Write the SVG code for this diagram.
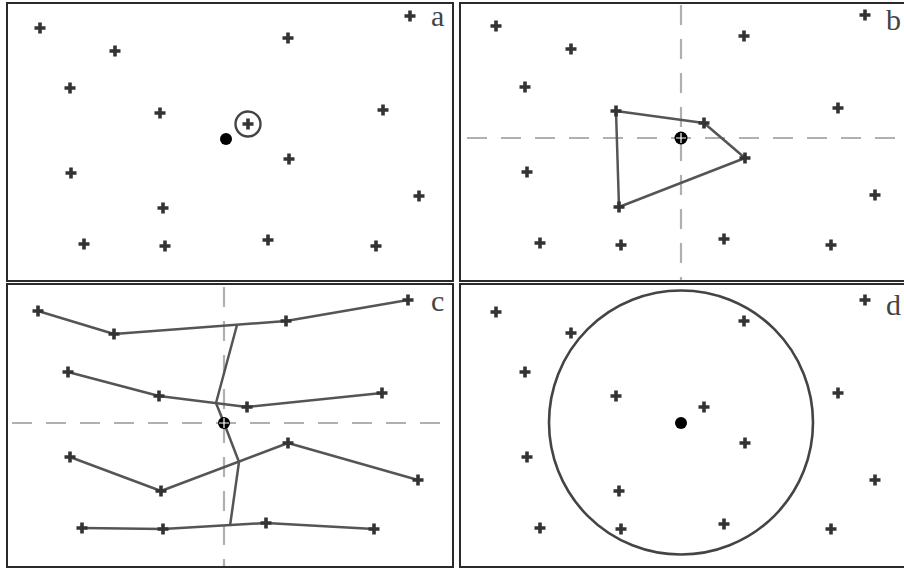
<svg xmlns="http://www.w3.org/2000/svg" xmlns:xlink="http://www.w3.org/1999/xlink" width="904" height="569" viewBox="0 0 904 569">
<style>
.frame{fill:none;stroke:#2a2a2a;stroke-width:2}
.dash{stroke:#b0b0b0;stroke-width:2.2;stroke-dasharray:20 14;fill:none}
.poly{fill:none;stroke:#555;stroke-width:2.5;stroke-linejoin:round}
.lbl{font-family:"Liberation Serif","DejaVu Serif",serif;font-size:30px;fill:#444}
.dot{fill:#000}
</style>
<defs>
<path id="p" d="M-5.5,0H5.5M0,-5.5V5.5" stroke="#333" stroke-width="3.6"/>
</defs>
<rect x="0" y="0" width="904" height="569" fill="#fff"/>

<g id="panel-a">
<rect class="frame" x="7" y="3" width="446" height="278"/>
<text class="lbl" x="431" y="26">a</text>
<g id="points-a">
<use xlink:href="#p" x="40" y="28"/><use xlink:href="#p" x="115" y="51"/><use xlink:href="#p" x="288" y="38"/><use xlink:href="#p" x="410" y="16"/>
<use xlink:href="#p" x="70" y="88"/><use xlink:href="#p" x="160" y="113"/><use xlink:href="#p" x="248" y="124"/><use xlink:href="#p" x="383" y="110"/>
<use xlink:href="#p" x="289" y="159"/><use xlink:href="#p" x="71" y="173"/><use xlink:href="#p" x="419" y="196"/><use xlink:href="#p" x="163" y="208"/>
<use xlink:href="#p" x="84" y="244"/><use xlink:href="#p" x="165" y="246"/><use xlink:href="#p" x="268" y="240"/><use xlink:href="#p" x="376" y="246"/>
</g>
<circle cx="248" cy="124" r="12.5" fill="none" stroke="#444" stroke-width="2.4"/>
<circle class="dot" cx="226" cy="139" r="6"/>
</g>

<g id="panel-b">
<rect class="frame" x="460" y="3" width="450" height="278"/>
<text class="lbl" x="886" y="30">b</text>
<g id="guides-b">
<line class="dash" x1="681" y1="5" x2="681" y2="280"/>
<line class="dash" x1="467" y1="138" x2="904" y2="138"/>
</g>
<polygon class="poly" points="616,111 704,123 745,158 619,207"/>
<g id="points-b">
<use xlink:href="#p" x="496" y="26"/><use xlink:href="#p" x="571" y="49"/><use xlink:href="#p" x="744" y="36"/><use xlink:href="#p" x="865" y="15"/>
<use xlink:href="#p" x="525" y="87"/><use xlink:href="#p" x="616" y="111"/><use xlink:href="#p" x="704" y="123"/><use xlink:href="#p" x="838" y="108"/>
<use xlink:href="#p" x="745" y="158"/><use xlink:href="#p" x="527" y="172"/><use xlink:href="#p" x="875" y="195"/><use xlink:href="#p" x="619" y="207"/>
<use xlink:href="#p" x="540" y="243"/><use xlink:href="#p" x="621" y="245"/><use xlink:href="#p" x="724" y="239"/><use xlink:href="#p" x="831" y="245"/>
</g>
<circle class="dot" cx="681" cy="138" r="6.5"/>
<path d="M676,138H686M681,133V143" stroke="#fff" stroke-width="1.2"/>
</g>

<g id="panel-c">
<rect class="frame" x="7" y="284" width="446" height="283"/>
<text class="lbl" x="431" y="311">c</text>
<g id="guides-c">
<line class="dash" x1="224" y1="287" x2="224" y2="566"/>
<line class="dash" x1="12" y1="423" x2="448" y2="423"/>
</g>
<g id="connectors-c">
<polyline class="poly" points="38,311 114,334 286,321 408,300"/>
<polyline class="poly" points="68,372 159,396 247,407 382,393"/>
<polyline class="poly" points="70,457 161,491 288,443 418,480"/>
<polyline class="poly" points="82,528 163,529 266,523 374,529"/>
<polyline class="poly" points="237,325 216,403 224,423 239,462 230,526"/>
</g>
<g id="points-c">
<use xlink:href="#p" x="38" y="311"/><use xlink:href="#p" x="114" y="334"/><use xlink:href="#p" x="286" y="321"/><use xlink:href="#p" x="408" y="300"/>
<use xlink:href="#p" x="68" y="372"/><use xlink:href="#p" x="159" y="396"/><use xlink:href="#p" x="247" y="407"/><use xlink:href="#p" x="382" y="393"/>
<use xlink:href="#p" x="70" y="457"/><use xlink:href="#p" x="161" y="491"/><use xlink:href="#p" x="288" y="443"/><use xlink:href="#p" x="418" y="480"/>
<use xlink:href="#p" x="82" y="528"/><use xlink:href="#p" x="163" y="529"/><use xlink:href="#p" x="266" y="523"/><use xlink:href="#p" x="374" y="529"/>
</g>
<circle class="dot" cx="224" cy="423" r="6"/>
<path d="M219,423H229M224,418V428" stroke="#fff" stroke-width="1.2"/>
</g>

<g id="panel-d">
<rect class="frame" x="460" y="284" width="450" height="283"/>
<text class="lbl" x="886" y="315">d</text>
<circle cx="681" cy="422.5" r="132" fill="none" stroke="#444" stroke-width="2.6"/>
<g id="points-d">
<use xlink:href="#p" x="496" y="312"/><use xlink:href="#p" x="571" y="333"/><use xlink:href="#p" x="744" y="321"/><use xlink:href="#p" x="865" y="300"/>
<use xlink:href="#p" x="525" y="372"/><use xlink:href="#p" x="616" y="396"/><use xlink:href="#p" x="704" y="407"/><use xlink:href="#p" x="838" y="393"/>
<use xlink:href="#p" x="745" y="443"/><use xlink:href="#p" x="527" y="457"/><use xlink:href="#p" x="875" y="480"/><use xlink:href="#p" x="619" y="491"/>
<use xlink:href="#p" x="540" y="528"/><use xlink:href="#p" x="621" y="529"/><use xlink:href="#p" x="724" y="524"/><use xlink:href="#p" x="831" y="529"/>
</g>
<circle class="dot" cx="681" cy="423" r="6"/>
</g>
</svg>
